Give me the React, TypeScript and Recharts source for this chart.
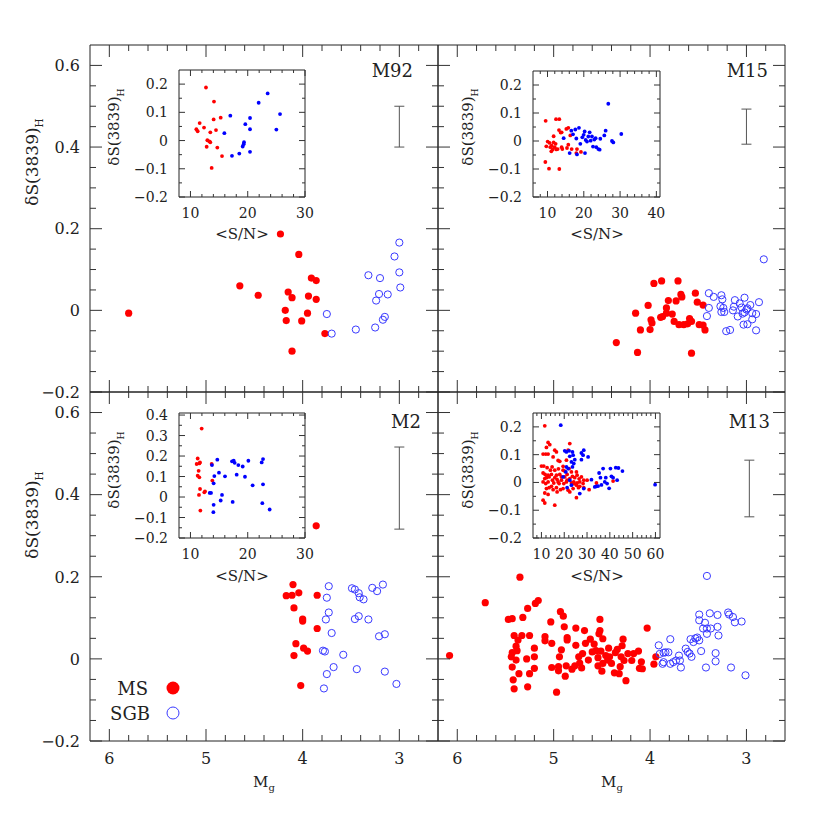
import React from 'react';
import { ScatterChart, Scatter, XAxis, YAxis, ErrorBar, Legend } from 'recharts';

type Pt = [number, number];

// ---- M92 ----
const m92MS: Pt[] = [
  [5.80, -0.007], [4.65, 0.060], [4.46, 0.037], [4.23, 0.187], [4.04, 0.137], [4.15, 0.045],
  [4.11, 0.031], [4.18, 0.000], [4.17, -0.025], [4.11, -0.100], [4.01, -0.026], [3.95, -0.007],
  [3.94, 0.035], [3.91, 0.079], [3.86, 0.073], [3.86, 0.027], [3.77, -0.057],
];
const m92SGB: Pt[] = [
  [3.75, -0.009], [3.70, -0.057], [3.45, -0.047], [3.32, 0.086], [3.20, 0.079], [3.21, 0.040],
  [3.24, 0.024], [3.12, 0.039], [3.25, -0.042], [3.17, -0.023], [3.15, -0.016], [3.05, 0.132],
  [3.00, 0.166], [3.00, 0.093], [2.99, 0.056],
];
const m92SnMS: Pt[] = [
  [12.71, 0.188], [14.11, 0.138], [14.05, 0.075], [15.28, 0.081], [11.61, 0.062], [11.03, 0.040],
  [11.26, 0.033], [12.37, 0.046], [13.47, 0.029], [14.46, 0.037], [12.95, 0.001], [13.30, -0.003],
  [13.47, -0.006], [12.83, -0.022], [14.69, -0.025], [15.51, -0.055], [13.70, -0.097],
];
const m92SnSGB: Pt[] = [
  [16.96, 0.088], [15.92, 0.026], [17.25, -0.054], [18.53, -0.046], [19.12, -0.021], [19.29, -0.013],
  [19.35, -0.006], [19.58, 0.058], [20.40, 0.080], [20.40, 0.040], [20.40, -0.040], [21.91, 0.134],
  [23.48, 0.167], [25.00, 0.039], [25.64, 0.094],
];

// ---- M15 ----
const m15MS: Pt[] = [
  [4.35, -0.079], [4.13, -0.103], [4.10, -0.048], [4.15, -0.007], [4.02, 0.012], [4.00, -0.047],
  [3.99, -0.023], [3.98, -0.031], [3.96, 0.066], [3.88, 0.072], [3.89, -0.017], [3.87, -0.015],
  [3.83, 0.006], [3.83, -0.007], [3.81, 0.024], [3.77, -0.009], [3.75, -0.027], [3.73, 0.023],
  [3.71, 0.072], [3.68, 0.039], [3.67, 0.033], [3.70, -0.035], [3.65, -0.035], [3.61, -0.033],
  [3.59, -0.020], [3.57, -0.027], [3.57, -0.105], [3.53, 0.042], [3.51, 0.020], [3.49, -0.035],
  [3.45, -0.036], [3.43, -0.048], [3.45, 0.013],
];
const m15SGB: Pt[] = [
  [3.39, 0.042], [3.39, 0.006], [3.41, -0.014], [3.34, 0.033], [3.26, 0.037], [3.25, 0.027],
  [3.27, 0.010], [3.24, 0.006], [3.26, -0.004], [3.23, -0.004], [3.21, -0.051], [3.17, -0.048],
  [3.14, 0.000], [3.13, 0.009], [3.12, 0.025], [3.09, -0.015], [3.07, 0.017], [3.05, 0.007],
  [3.04, -0.008], [3.02, 0.031], [3.02, -0.005], [3.00, 0.002], [2.99, 0.005], [2.96, 0.013],
  [2.94, -0.007], [2.94, -0.022], [3.03, -0.035], [2.99, -0.034], [2.90, -0.009], [2.87, 0.020],
  [2.90, -0.049], [2.82, 0.125],
];
const m15SnMS: Pt[] = [
  [9.49, 0.072], [12.34, 0.078], [13.25, 0.078], [9.40, -0.075], [10.41, -0.099], [13.25, -0.100],
  [9.67, -0.019], [10.04, -0.002], [10.59, -0.007], [10.77, -0.022], [11.05, -0.037], [11.42, -0.030],
  [11.14, -0.017], [11.69, 0.017], [11.69, -0.005], [11.97, -0.022], [12.24, -0.010], [12.43, -0.030],
  [12.80, -0.029], [13.16, 0.039], [13.62, 0.030], [13.89, 0.031], [13.89, -0.022], [14.08, -0.029],
  [15.18, 0.043], [15.73, 0.047], [15.37, -0.025], [15.73, -0.013], [16.28, 0.020], [16.65, -0.029],
  [18.12, -0.029], [19.22, -0.039], [17.94, -0.043],
];
const m15SnSGB: Pt[] = [
  [14.45, 0.010], [16.10, -0.043], [16.56, 0.037], [17.02, 0.024], [17.66, 0.041], [17.94, 0.009],
  [18.67, 0.047], [18.12, -0.048], [19.04, -0.010], [19.59, 0.013], [19.96, 0.022], [20.23, 0.034],
  [20.33, -0.043], [20.51, 0.004], [20.88, -0.002], [21.24, 0.016], [21.61, 0.031], [21.89, 0.001],
  [22.25, 0.016], [22.53, -0.020], [22.90, 0.005], [23.26, 0.010], [23.45, -0.022], [24.00, -0.029],
  [24.37, -0.031], [24.55, 0.008], [25.65, 0.020], [26.02, 0.037], [26.75, 0.133], [27.76, 0.000],
  [28.13, -0.005], [30.33, 0.025],
];

// ---- M2 ----
const m2MS: Pt[] = [
  [3.86, 0.324], [4.10, 0.181], [4.17, 0.154], [4.11, 0.155], [4.04, 0.161], [3.85, 0.155],
  [4.09, 0.124], [4.00, 0.097], [4.00, 0.092], [3.85, 0.074], [4.07, 0.037], [3.99, 0.026],
  [3.95, 0.019], [4.09, 0.008], [4.02, -0.065],
];
const m2SGB: Pt[] = [
  [3.73, 0.177], [3.75, 0.149], [3.73, 0.113], [3.76, 0.096], [3.70, 0.063], [3.79, 0.020],
  [3.77, 0.018], [3.68, -0.020], [3.75, -0.037], [3.78, -0.072], [3.58, 0.010], [3.49, 0.172],
  [3.46, 0.169], [3.42, 0.160], [3.41, 0.150], [3.37, 0.145], [3.42, 0.104], [3.46, 0.097],
  [3.32, 0.096], [3.44, -0.025], [3.28, 0.173], [3.23, 0.165], [3.17, 0.181], [3.21, 0.055],
  [3.15, 0.060], [3.15, -0.031], [3.03, -0.061],
];
const m2SnMS: Pt[] = [
  [11.96, 0.334], [11.26, 0.188], [11.08, 0.161], [11.55, 0.164], [11.67, 0.169], [11.43, 0.128],
  [11.26, 0.104], [11.55, 0.096], [13.70, 0.161], [13.82, 0.080], [11.67, 0.039], [12.42, 0.023],
  [12.54, 0.028], [11.49, 0.010], [11.73, -0.066],
];
const m2SnSGB: Pt[] = [
  [13.76, 0.156], [14.69, 0.182], [14.17, 0.102], [14.98, 0.119], [16.03, 0.101], [13.36, 0.020],
  [13.59, 0.020], [14.05, 0.067], [14.05, -0.038], [14.00, -0.074], [15.28, -0.017], [15.51, 0.010],
  [17.25, 0.174], [17.55, 0.177], [17.72, 0.167], [18.36, 0.156], [19.12, 0.149], [18.07, 0.109],
  [19.52, 0.099], [20.11, 0.177], [17.37, -0.024], [20.86, 0.057], [22.44, 0.169], [22.67, 0.185],
  [22.67, 0.062], [22.55, -0.030], [23.83, -0.061],
];

// ---- M13 ----
const m13MS: Pt[] = [
  [6.08, 0.008], [5.71, 0.137], [5.35, 0.199], [5.27, 0.123], [5.19, 0.135], [5.16, 0.142],
  [5.47, 0.096], [5.43, 0.098], [5.32, 0.101], [5.41, 0.057], [5.33, 0.057], [5.25, 0.057],
  [5.37, 0.046], [5.39, 0.031], [5.43, 0.015], [5.38, 0.020], [5.44, 0.005], [5.39, -0.003],
  [5.28, 0.000], [5.20, 0.026], [5.20, 0.005], [5.43, -0.020], [5.20, -0.023], [5.36, -0.036],
  [5.25, -0.036], [5.42, -0.051], [5.41, -0.073], [5.27, -0.068], [4.97, -0.081], [5.09, 0.054],
  [5.09, 0.044], [5.03, 0.090], [5.02, 0.038], [4.93, 0.115], [4.90, 0.104], [4.89, 0.078],
  [4.86, 0.052], [4.86, 0.046], [4.92, 0.022], [4.94, 0.005], [5.02, -0.021], [4.95, -0.019],
  [4.95, -0.029], [4.88, -0.042], [4.87, -0.017], [4.81, -0.025], [4.77, 0.075], [4.77, 0.033],
  [4.78, -0.017], [4.74, 0.005], [4.73, -0.010], [4.71, -0.022], [4.70, 0.013], [4.68, 0.069],
  [4.67, 0.038], [4.64, -0.003], [4.62, 0.048], [4.60, 0.017], [4.58, 0.036], [4.56, 0.020],
  [4.54, 0.003], [4.54, -0.017], [4.53, 0.061], [4.52, 0.096], [4.52, 0.069], [4.51, 0.019],
  [4.50, -0.030], [4.49, 0.049], [4.49, -0.011], [4.46, 0.008], [4.44, -0.003], [4.43, 0.026],
  [4.42, 0.005], [4.40, -0.011], [4.37, -0.034], [4.36, 0.015], [4.34, 0.023], [4.32, -0.036],
  [4.31, -0.019], [4.30, 0.005], [4.29, 0.032], [4.28, 0.048], [4.27, -0.004], [4.25, -0.053],
  [4.23, 0.013], [4.19, -0.004], [4.17, 0.013], [4.12, 0.019], [4.11, -0.023], [4.03, 0.075],
  [4.09, -0.007], [4.08, -0.024], [3.96, -0.013], [3.94, 0.005],
];
const m13SGB: Pt[] = [
  [3.91, 0.033], [3.79, 0.048], [3.90, 0.012], [3.87, -0.012], [3.86, 0.015], [3.84, 0.016],
  [3.81, 0.016], [3.86, -0.008], [3.79, -0.012], [3.76, -0.008], [3.73, -0.004], [3.70, 0.008],
  [3.69, -0.004], [3.68, -0.021], [3.63, 0.025], [3.61, 0.017], [3.59, 0.013], [3.57, 0.005],
  [3.58, 0.048], [3.55, 0.041], [3.53, 0.050], [3.51, 0.052], [3.49, 0.045], [3.47, 0.019],
  [3.49, 0.108], [3.49, 0.094], [3.43, 0.088], [3.45, 0.074], [3.41, 0.074], [3.37, 0.074],
  [3.41, 0.061], [3.41, 0.202], [3.38, 0.111], [3.30, 0.107], [3.30, 0.078], [3.29, 0.057],
  [3.32, 0.014], [3.32, -0.006], [3.42, -0.021], [3.19, 0.113], [3.18, 0.108], [3.14, 0.102],
  [3.12, 0.089], [3.05, 0.091], [3.16, -0.021], [3.01, -0.040],
];
const m13SnMS: Pt[] = [
  [11.46, 0.204], [12.92, 0.144], [13.65, 0.136], [12.19, 0.126], [10.73, 0.102], [11.90, 0.102],
  [12.92, 0.102], [15.85, 0.116], [16.58, 0.110], [22.43, 0.140], [21.70, 0.116], [15.12, 0.092],
  [17.31, 0.079], [18.04, 0.076], [20.96, 0.080], [10.00, 0.059], [11.02, 0.059], [12.49, 0.053],
  [14.68, 0.056], [15.85, 0.044], [17.46, 0.049], [19.50, 0.044], [22.13, 0.050], [23.16, 0.038],
  [25.35, 0.038], [10.73, 0.034], [11.61, 0.029], [12.19, 0.017], [13.36, 0.020], [14.39, 0.029],
  [15.85, 0.017], [16.87, 0.011], [18.04, 0.029], [18.77, 0.008], [20.23, 0.020], [21.26, 0.029],
  [22.43, 0.014], [23.60, 0.022], [24.62, 0.017], [25.64, 0.026], [26.52, 0.013], [27.54, 0.020],
  [28.57, 0.008], [10.73, 0.002], [11.90, -0.004], [12.92, 0.002], [15.41, -0.002], [17.31, 0.002],
  [19.80, -0.004], [20.96, 0.002], [23.16, -0.002], [24.18, 0.002], [25.64, -0.002], [26.81, 0.002],
  [28.27, -0.004], [30.03, 0.008], [12.19, -0.022], [13.36, -0.019], [16.58, -0.019], [18.33, -0.026],
  [19.50, -0.022], [21.70, -0.028], [23.89, -0.022], [26.23, -0.019], [28.57, -0.019], [30.91, -0.026],
  [11.46, -0.038], [12.92, -0.043], [16.87, -0.034], [22.43, -0.034], [25.35, -0.055], [10.73, -0.064],
  [11.46, -0.074], [15.85, -0.082], [34.12, -0.002], [41.43, 0.005], [13.95, 0.044], [14.82, 0.008],
  [19.50, 0.058], [20.23, 0.041], [17.75, -0.004], [24.33, -0.004], [21.26, 0.008], [14.39, -0.014],
  [25.35, -0.010], [26.81, -0.014], [18.77, 0.020], [16.58, 0.026], [12.92, 0.026], [11.46, 0.014],
  [15.12, -0.026],
];
const m13SnSGB: Pt[] = [
  [18.48, 0.206], [20.23, 0.114], [20.96, 0.110], [22.13, 0.114], [23.60, 0.110], [22.43, 0.094],
  [23.89, 0.098], [23.16, 0.074], [24.62, 0.082], [24.18, 0.068], [20.96, 0.056], [21.70, 0.050],
  [23.60, 0.056], [27.54, 0.106], [28.57, 0.116], [28.27, 0.098], [30.47, 0.092], [27.54, 0.082],
  [22.43, 0.008], [23.16, -0.010], [21.26, -0.019], [26.81, -0.040], [28.57, -0.022], [31.93, 0.010],
  [33.39, -0.016], [34.12, -0.014], [35.29, 0.034], [35.88, 0.017], [37.05, 0.050], [37.78, 0.002],
  [38.22, 0.017], [38.80, -0.004], [39.68, -0.021], [40.26, 0.050], [40.70, 0.022], [41.43, 0.017],
  [42.60, 0.053], [43.19, 0.008], [43.77, 0.052], [45.53, 0.041], [59.85, -0.008], [36.32, -0.009],
  [34.85, -0.013], [20.67, 0.038], [19.50, 0.020],
];

// typical error bars [Mg, delta, half-length]
const m92Err = [3.0, 0.45, 0.05];
const m15Err = [3.0, 0.45, 0.043];
const m2Err = [3.0, 0.416, 0.1];
const m13Err = [2.97, 0.415, 0.069];

// axis ticks
const mainXTicks = [2.8, 3, 3.2, 3.4, 3.6, 3.8, 4, 4.2, 4.4, 4.6, 4.8, 5, 5.2, 5.4, 5.6, 5.8, 6];
const mainXMajor = [3, 4, 5, 6];
const mainYTicks = [-0.2, -0.15, -0.1, -0.05, 0, 0.05, 0.1, 0.15, 0.2, 0.25, 0.3, 0.35, 0.4, 0.45, 0.5, 0.55, 0.6];
const mainYMajor = [-0.2, 0, 0.2, 0.4, 0.6];
const snTicks30 = [10, 12, 14, 16, 18, 20, 22, 24, 26, 28, 30];
const snMajor30 = [10, 20, 30];
const snTicks40 = [8, 10, 12, 14, 16, 18, 20, 22, 24, 26, 28, 30, 32, 34, 36, 38, 40];
const snMajor40 = [10, 20, 30, 40];
const snTicks60 = [8, 10, 12, 14, 16, 18, 20, 22, 24, 26, 28, 30, 32, 34, 36, 38, 40, 42, 44, 46, 48, 50, 52, 54, 56, 58, 60];
const snMajor60 = [10, 20, 30, 40, 50, 60];
const insetYTicks = [-0.2, -0.15, -0.1, -0.05, 0, 0.05, 0.1, 0.15, 0.2];
const insetYTicksWide = [-0.2, -0.15, -0.1, -0.05, 0, 0.05, 0.1, 0.15, 0.2, 0.25, 0.3, 0.35, 0.4];
const insetYMajor = [-0.2, -0.1, 0, 0.1, 0.2, 0.3, 0.4];

const FONT = 'DejaVu Serif';
const INK = '#222';
const RED = '#ff0000';
const BLUE_OPEN = '#3a3aff';
const BLUE = '#0000ff';

const fmtY = (v: number) => (Math.abs(v) < 1e-9 ? '0' : (v < 0 ? '\u2212' : '') + Math.abs(v).toFixed(1));
const fmtX = (v: number) => String(v);

type Side = 'bottom' | 'top' | 'left' | 'right';

function tickRenderer(side: Side, major: number[], showLabel: boolean, maj: number, min: number, fs: number, gap: number, fmt: (v: number) => string) {
  return (p: any) => {
    const { x, y, payload } = p;
    const v = payload.value;
    const isMaj = major.some((m) => Math.abs(m - v) < 1e-6);
    const len = isMaj ? maj : min;
    let x2 = x;
    let y2 = y;
    if (side === 'bottom') y2 = y - len;
    if (side === 'top') y2 = y + len;
    if (side === 'left') x2 = x + len;
    if (side === 'right') x2 = x - len;
    let label = null;
    if (showLabel && isMaj) {
      label =
        side === 'bottom' ? (
          <text x={x} y={y + gap} textAnchor="middle" fontFamily={FONT} fontSize={fs} fill={INK}>{fmt(v)}</text>
        ) : (
          <text x={x - gap} y={y} dy="0.36em" textAnchor="end" fontFamily={FONT} fontSize={fs} fill={INK}>{fmt(v)}</text>
        );
    }
    return (
      <g>
        <line x1={x} y1={y} x2={x2} y2={y2} stroke="#333" strokeWidth={1} />
        {label}
      </g>
    );
  };
}

type PanelProps = {
  box: [number, number, number, number];
  xDomain: [number, number];
  yDomain: [number, number];
  reversed?: boolean;
  xTicks: number[];
  xMajor: number[];
  yTicks: number[];
  yMajor: number[];
  xLab: boolean;
  yLab: boolean;
  maj: number;
  min: number;
  fs: number;
  xGap: number;
  yGap: number;
  children?: React.ReactNode;
};

// each panel is a full-page chart whose plot area sits on the given box;
// the four axes are 1px thick so that they are drawn, and frame the box
function Panel(p: PanelProps) {
  const [x0, y0, x1, y1] = p.box;
  const axisLine = { stroke: '#222', strokeWidth: 1 };
  return (
    <div style={{ position: 'absolute', left: 0, top: 0 }}>
      <ScatterChart width={830} height={830} margin={{ left: x0 - 1, top: y0 - 1, right: 830 - x1 - 1, bottom: 830 - y1 - 1 }}>
        <XAxis xAxisId={0} type="number" dataKey="x" orientation="bottom" domain={p.xDomain} reversed={p.reversed} allowDataOverflow
          ticks={p.xTicks} interval={0} height={1} tickSize={0} tickMargin={0} tickLine={false} axisLine={axisLine}
          tick={tickRenderer('bottom', p.xMajor, p.xLab, p.maj, p.min, p.fs, p.xGap, fmtX)} />
        <XAxis xAxisId="t" type="number" dataKey="x" orientation="top" domain={p.xDomain} reversed={p.reversed} allowDataOverflow
          ticks={p.xTicks} interval={0} height={1} tickSize={0} tickMargin={0} tickLine={false} axisLine={axisLine}
          tick={tickRenderer('top', p.xMajor, false, p.maj, p.min, p.fs, p.xGap, fmtX)} />
        <YAxis yAxisId={0} type="number" dataKey="y" orientation="left" domain={p.yDomain} allowDataOverflow
          ticks={p.yTicks} interval={0} width={1} tickSize={0} tickMargin={0} tickLine={false} axisLine={axisLine}
          tick={tickRenderer('left', p.yMajor, p.yLab, p.maj, p.min, p.fs, p.yGap, fmtY)} />
        <YAxis yAxisId="r" type="number" dataKey="y" orientation="right" domain={p.yDomain} allowDataOverflow
          ticks={p.yTicks} interval={0} width={1} tickSize={0} tickMargin={0} tickLine={false} axisLine={axisLine}
          tick={tickRenderer('right', p.yMajor, false, p.maj, p.min, p.fs, p.yGap, fmtY)} />
        {p.children}
      </ScatterChart>
    </div>
  );
}

const toXY = (arr: Pt[]) => arr.map(([x, y]) => ({ x, y }));

const redDot = (r: number) => (s: any) => <circle cx={s.cx} cy={s.cy} r={r} fill={RED} />;
const blueDot = (r: number) => (s: any) => <circle cx={s.cx} cy={s.cy} r={r} fill={BLUE} />;
const blueRing = (s: any) => <circle cx={s.cx} cy={s.cy} r={3.6} fill="none" stroke={BLUE_OPEN} strokeWidth={1} />;
const noShape = () => <g />;

function LegendBox() {
  return (
    <svg width={90} height={60} style={{ overflow: 'visible' }}>
      <text x={48} y={20} textAnchor="end" fontFamily={FONT} fontSize={18} fill={INK}>MS</text>
      <circle cx={73} cy={13} r={6.5} fill={RED} />
      <text x={50} y={45} textAnchor="end" fontFamily={FONT} fontSize={18} fill={INK}>SGB</text>
      <circle cx={73} cy={38} r={6} fill="none" stroke={BLUE_OPEN} strokeWidth={1} />
    </svg>
  );
}

function mainPanel(key: string, box: [number, number, number, number], xLab: boolean, yLab: boolean, ms: Pt[], sgb: Pt[], err: number[], legend = false) {
  return (
    <Panel key={key} box={box} xDomain={[2.6, 6.2]} yDomain={[-0.2, 0.65]} reversed xTicks={mainXTicks} xMajor={mainXMajor}
      yTicks={mainYTicks} yMajor={mainYMajor} xLab={xLab} yLab={yLab} maj={12} min={6} fs={16} xGap={23} yGap={10}>
      <Scatter name="MS" data={toXY(ms)} shape={redDot(3.6)} isAnimationActive={false} />
      <Scatter name="SGB" data={toXY(sgb)} shape={blueRing} isAnimationActive={false} />
      <Scatter data={[{ x: err[0], y: err[1], e: err[2] }]} shape={noShape} isAnimationActive={false}>
        <ErrorBar dataKey="e" direction="y" width={5} stroke="#555" strokeWidth={1} />
      </Scatter>
      {legend ? (
        <Legend layout="vertical" align="center" verticalAlign="middle" content={() => <LegendBox />}
          wrapperStyle={{ position: 'absolute', left: 100, top: 675, width: 90, height: 60 }} />
      ) : null}
    </Panel>
  );
}

function insetPanel(key: string, box: [number, number, number, number], xDomain: [number, number], xTicks: number[], xMajor: number[],
  yDomain: [number, number], yTicks: number[], ms: Pt[], sgb: Pt[]) {
  return (
    <Panel key={key} box={box} xDomain={xDomain} yDomain={yDomain} xTicks={xTicks} xMajor={xMajor}
      yTicks={yTicks} yMajor={insetYMajor} xLab yLab maj={6} min={3} fs={14} xGap={21} yGap={11}>
      <Scatter data={toXY(ms)} shape={redDot(1.9)} isAnimationActive={false} />
      <Scatter data={toXY(sgb)} shape={blueDot(1.9)} isAnimationActive={false} />
    </Panel>
  );
}

function YLabel({ x, y, fs }: { x: number; y: number; fs: number }) {
  return (
    <text transform={`translate(${x},${y}) rotate(-90)`} textAnchor="middle" fontFamily={FONT} fontSize={fs} fill={INK}>
      δS(3839)<tspan dy={fs * 0.3} fontSize={fs * 0.62}>H</tspan>
    </text>
  );
}

function MgLabel({ x, y }: { x: number; y: number }) {
  return (
    <text x={x} y={y} textAnchor="middle" fontFamily={FONT} fontSize={15} fill={INK}>
      M<tspan dy={4} fontSize={10}>g</tspan>
    </text>
  );
}

function SnLabel({ x, y }: { x: number; y: number }) {
  return (
    <text x={x} y={y} textAnchor="middle" fontFamily={FONT} fontSize={15} fill={INK}>&lt;S/N&gt;</text>
  );
}

function Name({ x, y, t }: { x: number; y: number; t: string }) {
  return (
    <text x={x} y={y} textAnchor="end" fontFamily={FONT} fontSize={18} fill={INK}>{t}</text>
  );
}

export default function App() {
  return (
    <div style={{ position: 'absolute', left: 0, top: 0, width: 830, height: 830, background: '#fff' }}>
      {mainPanel('m92', [90, 45, 438, 392], false, true, m92MS, m92SGB, m92Err)}
      {mainPanel('m15', [438, 45, 785, 392], false, false, m15MS, m15SGB, m15Err)}
      {mainPanel('m2', [90, 392, 438, 741], true, true, m2MS, m2SGB, m2Err, true)}
      {mainPanel('m13', [438, 392, 785, 741], true, false, m13MS, m13SGB, m13Err)}
      {insetPanel('i92', [179, 70, 305, 197], [8, 30], snTicks30, snMajor30, [-0.2, 0.25], insetYTicks, m92SnMS, m92SnSGB)}
      {insetPanel('i15', [533, 71, 660, 197], [6, 41], snTicks40, snMajor40, [-0.2, 0.25], insetYTicks, m15SnMS, m15SnSGB)}
      {insetPanel('i2', [179, 413, 305, 538], [8, 30], snTicks30, snMajor30, [-0.2, 0.41], insetYTicksWide, m2SnMS, m2SnSGB)}
      {insetPanel('i13', [533, 413, 660, 538], [6.3, 62], snTicks60, snMajor60, [-0.2, 0.25], insetYTicks, m13SnMS, m13SnSGB)}
      <svg width={830} height={830} style={{ position: 'absolute', left: 0, top: 0, pointerEvents: 'none' }}>
        <YLabel x={38} y={162} fs={17} />
        <YLabel x={38} y={515} fs={17} />
        <MgLabel x={264} y={787} />
        <MgLabel x={612} y={787} />
        <YLabel x={119} y={127} fs={15} />
        <YLabel x={473} y={127} fs={15} />
        <YLabel x={119} y={470} fs={15} />
        <YLabel x={473} y={470} fs={15} />
        <SnLabel x={242} y={239} />
        <SnLabel x={597} y={239} />
        <SnLabel x={242} y={581} />
        <SnLabel x={597} y={581} />
        <Name x={413} y={77} t="M92" />
        <Name x={768} y={77} t="M15" />
        <Name x={421} y={428} t="M2" />
        <Name x={770} y={428} t="M13" />
      </svg>
    </div>
  );
}
